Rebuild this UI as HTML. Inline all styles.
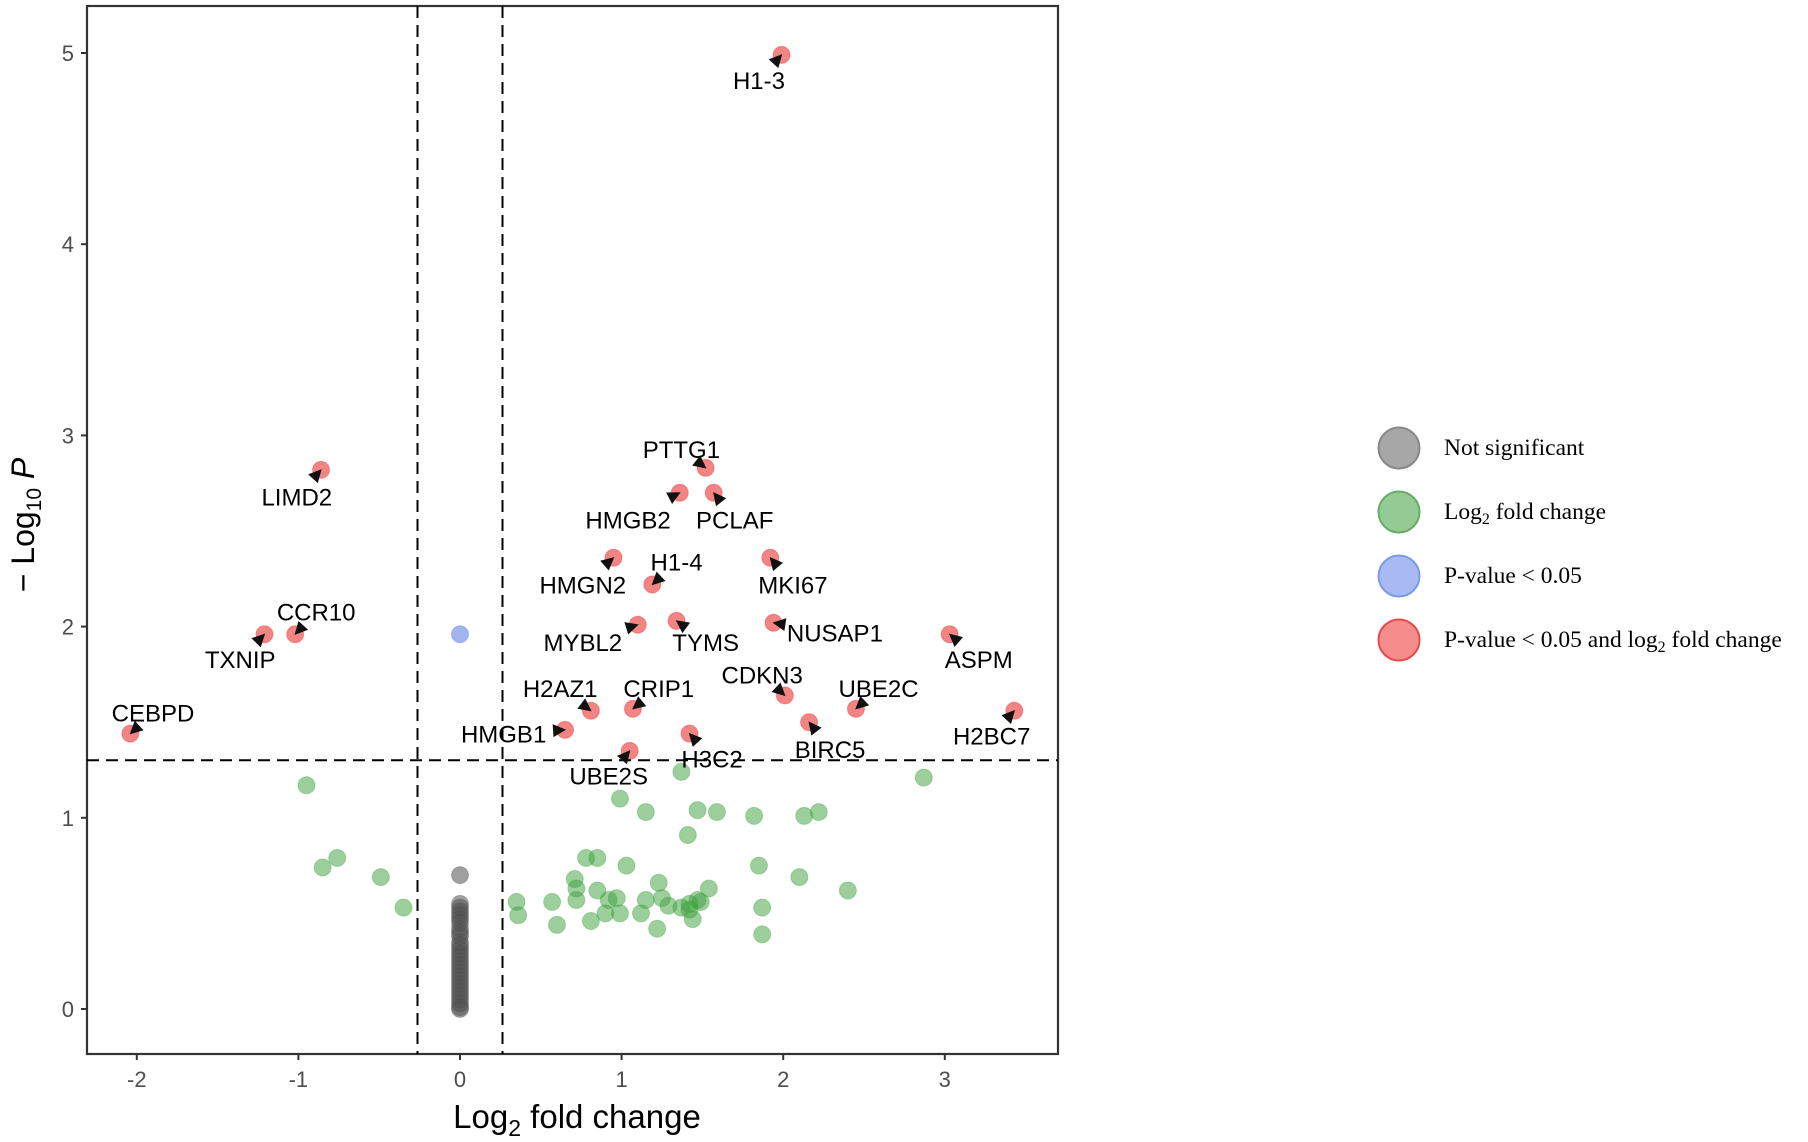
<!DOCTYPE html>
<html><head><meta charset="utf-8"><style>
html,body{margin:0;padding:0;background:#fff;}
svg{display:block;}
</style></head><body>
<svg id="chart" width="1808" height="1142" xmlns="http://www.w3.org/2000/svg"></svg>
<script>
const sigGenes = ["H1-3","LIMD2","PTTG1","HMGB2","PCLAF","HMGN2","H1-4","MKI67","CCR10","TXNIP","MYBL2","TYMS","NUSAP1","ASPM","CEBPD","H2AZ1","CRIP1","CDKN3","UBE2C","H2BC7","HMGB1","H3C2","BIRC5","UBE2S"];
const sigFC = [1.99,-0.86,1.52,1.36,1.57,0.95,1.19,1.92,-1.02,-1.21,1.10,1.34,1.94,3.03,-2.04,0.81,1.07,2.01,2.45,3.43,0.65,1.42,2.16,1.05];
const sigP = [4.99,2.82,2.83,2.70,2.70,2.36,2.22,2.36,1.96,1.96,2.01,2.03,2.02,1.96,1.44,1.56,1.57,1.64,1.57,1.56,1.46,1.44,1.50,1.35];
// label positions in data units
const labelFC = [1.85,-1.01,1.37,1.04,1.70,0.76,1.34,2.06,-0.89,-1.36,0.76,1.52,2.32,3.21,-1.90,0.62,1.23,1.87,2.59,3.29,0.27,1.56,2.29,0.92];
const labelP = [4.86,2.68,2.93,2.56,2.56,2.22,2.34,2.22,2.08,1.83,1.92,1.92,1.97,1.83,1.55,1.68,1.68,1.75,1.68,1.43,1.44,1.31,1.36,1.22];
const greenFC = [-0.95,-0.85,-0.76,-0.49,-0.35,1.37,0.99,1.15,1.47,1.59,1.82,2.13,2.22,2.87,1.41,0.78,0.85,1.03,1.85,0.71,2.10,2.40,0.35,0.36,0.57,0.72,0.72,0.85,0.92,0.97,1.23,1.25,1.29,1.15,1.42,1.42,1.47,1.49,1.54,1.37,1.87,0.99,1.12,0.60,0.81,0.90,1.22,1.44,1.87];
const greenP = [1.17,0.74,0.79,0.69,0.53,1.24,1.10,1.03,1.04,1.03,1.01,1.01,1.03,1.21,0.91,0.79,0.79,0.75,0.75,0.68,0.69,0.62,0.56,0.49,0.56,0.63,0.57,0.62,0.57,0.58,0.66,0.58,0.54,0.57,0.55,0.52,0.57,0.56,0.63,0.53,0.53,0.50,0.50,0.44,0.46,0.50,0.42,0.47,0.39];
const greyFC = [0,0,0,0,0,0,0,0,0,0,0,0,0,0,0,0,0,0,0,0,0,0,0,0,0,0,0,0,0];
const greyP = [0.70,0.55,0.53,0.51,0.49,0.47,0.45,0.42,0.40,0.38,0.35,0.33,0.31,0.29,0.27,0.25,0.23,0.21,0.19,0.17,0.15,0.13,0.11,0.09,0.07,0.05,0.03,0.01,0.0];
const blueFC = [0];
const blueP = [1.96];
const xTicks = [-2,-1,0,1,2,3];
const yTicks = [0,1,2,3,4,5];
const fcCut = [-0.263,0.263];
const pCut = [1.301];

const NS="http://www.w3.org/2000/svg";
const svg=document.getElementById('chart');
const L=87,R=1058,T=6,B=1054;
const X0=460,XU=161.6,Y0=1009,YU=191.2;
const sx=v=>X0+v*XU, sy=v=>Y0-v*YU;
function el(tag,attrs,parent){const e=document.createElementNS(NS,tag);for(const k in attrs)e.setAttribute(k,attrs[k]);(parent||svg).appendChild(e);return e;}

const frame=el('rect',{x:L,y:T,width:R-L,height:B-T,fill:'none',stroke:'#333',"stroke-width":2.2});



xTicks.forEach(t=>{
  el('line',{x1:sx(t),x2:sx(t),y1:B,y2:B+6,stroke:'#333',"stroke-width":2});
  const tx=el('text',{x:sx(t),y:B+33,"text-anchor":"middle","font-family":"Liberation Sans, sans-serif","font-size":22,fill:'#4d4d4d'});
  tx.textContent=t;
  
  
});
yTicks.forEach(t=>{
  el('line',{x1:L-6,x2:L,y1:sy(t),y2:sy(t),stroke:'#333',"stroke-width":2});
  const tx=el('text',{x:L-13,y:sy(t)+8,"text-anchor":"end","font-family":"Liberation Sans, sans-serif","font-size":22,fill:'#4d4d4d'});
  tx.textContent=t;
  
  
});

const xt=el('text',{x:577,y:1128,"text-anchor":"middle","font-family":"Liberation Sans, sans-serif","font-size":33,fill:'#000'});
xt.innerHTML='Log<tspan font-size="23" dy="8">2</tspan><tspan dy="-8"> fold change</tspan>';


const yt=el('text',{x:0,y:0,"text-anchor":"middle","font-family":"Liberation Sans, sans-serif","font-size":32,fill:'#000',transform:'translate(34,525) rotate(-90)'});
yt.innerHTML='− Log<tspan font-size="21" dy="7">10</tspan><tspan dy="-7" font-style="italic"> P</tspan>';



function pts(xs,ys,fill,stroke,name){
  xs.forEach((v,i)=>{
    const c=el('circle',{cx:sx(v),cy:sy(ys[i]),r:8.5,fill:fill,stroke:stroke,"stroke-width":1});
    
    
  });
}
pts(greyFC,greyP,'rgba(80,80,80,0.55)','rgba(80,80,80,0.3)','point-not-significant');
pts(greenFC,greenP,'rgba(60,160,60,0.5)','rgba(60,160,60,0.35)','point-log2fc');
pts(blueFC,blueP,'rgba(100,130,230,0.6)','rgba(100,130,230,0.4)','point-pvalue');
pts(sigFC,sigP,'rgba(235,50,50,0.6)','rgba(235,50,50,0.4)','point-significant');

fcCut.forEach(v=>{
  const ln=el('line',{x1:sx(v),x2:sx(v),y1:T,y2:B,stroke:'#000',"stroke-width":2,"stroke-dasharray":"12,7"});
  
  
});
pCut.forEach(v=>{
  const ln=el('line',{x1:L,x2:R,y1:sy(v),y2:sy(v),stroke:'#000',"stroke-width":2,"stroke-dasharray":"12,7"});
  
  
});

sigGenes.forEach((g,i)=>{
  const px=sx(sigFC[i]),py=sy(sigP[i]);
  const lx=sx(labelFC[i]),ly=sy(labelP[i]);
  let dx=lx-px,dy=ly-py;const d=Math.hypot(dx,dy)||1;dx/=d;dy/=d;
  const tipx=px-dx*1,tipy=py-dy*1;
  const bx=px+dx*12,by=py+dy*12;
  const nx=-dy,ny=dx;
  const tri=el('polygon',{points:`${tipx},${tipy} ${bx+nx*6.5},${by+ny*6.5} ${bx-nx*6.5},${by-ny*6.5}`,fill:'#111'});
  
  
  const t=el('text',{x:lx,y:ly+9,"text-anchor":"middle","font-family":"Liberation Sans, sans-serif","font-size":24,fill:'#000'});
  t.textContent=g;
  
  
});

const legNames=["Not significant","Log2 fold change","P-value < 0.05","P-value < 0.05 and log2 fold change"];
const legFill=['rgba(120,120,120,0.65)','rgba(90,175,90,0.65)','rgba(120,150,235,0.65)','rgba(240,80,80,0.65)'];
const legStroke=['#888','#6aaa6a','#7c9ae8','#e84a4a'];
const legY=[448,512,576,640];
const lg=el('g',{});


legNames.forEach((n,i)=>{
  const c=el('circle',{cx:1399,cy:legY[i],r:20.5,fill:legFill[i],stroke:legStroke[i],"stroke-width":2},lg);
  
  
  const t=el('text',{x:1444,y:legY[i]+7,"font-family":"Liberation Serif, serif","font-size":23.5,fill:'#000'},lg);
  if(i===1) t.innerHTML='Log<tspan font-size="16" dy="5">2</tspan><tspan dy="-5"> fold change</tspan>';
  else if(i===3) t.innerHTML='P-value &lt; 0.05 and log<tspan font-size="16" dy="5">2</tspan><tspan dy="-5"> fold change</tspan>';
  else t.textContent=n;
  
  
});
</script>
</body></html>
